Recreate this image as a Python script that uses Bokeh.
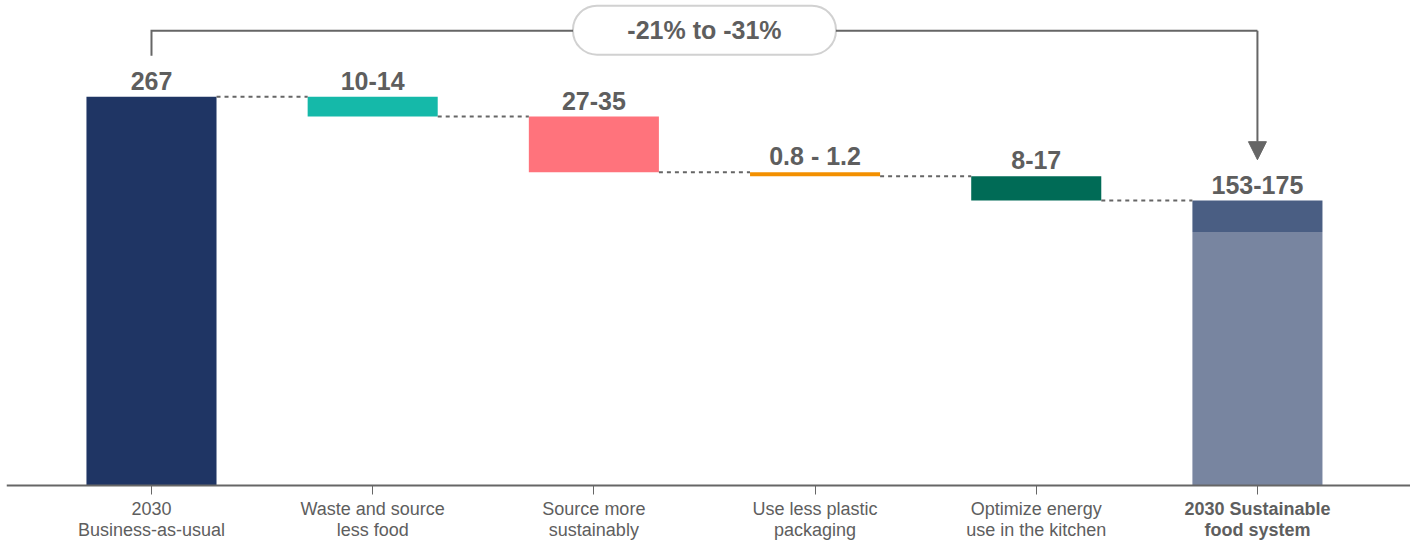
from bokeh.plotting import figure
from bokeh.models import Range1d, FixedTicker, Label, BoxAnnotation, Arrow, NormalHead, ColumnDataSource
from bokeh.core.properties import value
from bokeh.embed import file_html
from bokeh.resources import INLINE

# ---------------- data ----------------
categories = ["2030\nBusiness-as-usual", "Waste and source\nless food", "Source more\nsustainably",
              "Use less plastic\npackaging", "Optimize energy\nuse in the kitchen", "2030 Sustainable\nfood system"]
value_labels = ["267", "10-14", "27-35", "0.8 - 1.2", "8-17", "153-175"]
bau_value = 267
reductions = [13.7, 38.2, 2.7, 16.8]      # displayed step heights
final_lower = 174                          # lighter (lower) part of final bar
bracket_label = "-21% to -31%"
bar_colors = ["#1f3564", "#15b9a9", "#ff737c", "#f39000", "#006b56", "#4a5e83"]
final_light_color = "#7885a0"

# ---------------- derived ----------------
levels = [bau_value]
for r in reductions:
    levels.append(levels[-1] - r)
n = len(categories)
xs = list(range(n))
tops = [bau_value] + levels[:-1] + [levels[-1]]
bottoms = [0] + levels[1:] + [final_lower]
W = 0.588

GRAY = "#666666"
TXT = "#5e5e5e"
CAT_FONT = "Liberation Sans"
CAT_SIZE = "18px"
CAT_LH = 1.08

p = figure(width=1410, height=544, output_backend="svg", toolbar_location=None,
           x_range=Range1d(-0.6555, 5.692), y_range=Range1d(-40.5, 333),
           min_border_left=6, min_border_right=0, min_border_top=0, min_border_bottom=0)
p.outline_line_color = None
p.grid.visible = False
p.yaxis.visible = False

src = ColumnDataSource(dict(x=xs, top=tops, bottom=bottoms, color=bar_colors, label=value_labels))
p.vbar(x=[n - 1], top=[final_lower], bottom=[0], width=W, fill_color=final_light_color, line_color=None)
p.vbar(x="x", top="top", bottom="bottom", width=W, fill_color="color", line_color=None, source=src)

# dashed connectors
for i in range(n - 1):
    p.line([i + W / 2, i + 1 - W / 2], [levels[i], levels[i]], line_color=GRAY, line_width=2,
           line_dash="4 4")

# value labels
p.text(x="x", y="top", text="label", source=src, text_align="center", text_baseline="alphabetic",
       y_offset=-16, text_font=value("Liberation Sans"), text_font_style="bold",
       text_font_size="25px", text_color=TXT)

# bracket
y_br = 312.3
p.line([0, 0, n - 1], [295.1, y_br, y_br], line_color=GRAY, line_width=2, line_join="miter")
p.add_layout(Arrow(end=NormalHead(size=18, fill_color=GRAY, line_color=GRAY),
                   x_start=n - 1, y_start=y_br, x_end=n - 1, y_end=223.7,
                   line_color=GRAY, line_width=2))
mid = (n - 1) / 2
p.add_layout(BoxAnnotation(left=mid - 0.5945, right=mid + 0.5945, bottom=295.8, top=329.4,
                           fill_color="white", fill_alpha=1, line_color=GRAY, line_width=2,
                           border_radius=24))
p.add_layout(Label(x=mid, y=312.6, text=bracket_label, text_align="center", text_baseline="middle",
                   text_font="Liberation Sans", text_font_style="bold", text_font_size="25px",
                   text_color=TXT))

# x axis drawn at y = 0 inside the frame
ax = p.xaxis[0]
ax.fixed_location = 0
ax.ticker = FixedTicker(ticks=xs)
ax.major_label_overrides = {i: (c if i < n - 1 else "") for i, c in enumerate(categories)}
ax.axis_line_color = GRAY
ax.axis_line_width = 2
ax.major_tick_line_color = GRAY
ax.major_tick_line_width = 1
ax.major_tick_out = 9
ax.major_tick_in = 0
ax.minor_tick_line_color = None
ax.major_label_standoff = 4
ax.major_label_text_font = CAT_FONT
ax.major_label_text_font_size = CAT_SIZE
ax.major_label_text_color = TXT
ax.major_label_text_line_height = CAT_LH

# bold final category label
p.text(x=[n - 1], y=[0], text=[categories[-1]], text_align="center", text_baseline="top",
       y_offset=13, text_font=value(CAT_FONT), text_font_style="bold", text_font_size=CAT_SIZE,
       text_color=TXT, text_line_height=CAT_LH)

open("out.html", "w").write(file_html(p, INLINE))
